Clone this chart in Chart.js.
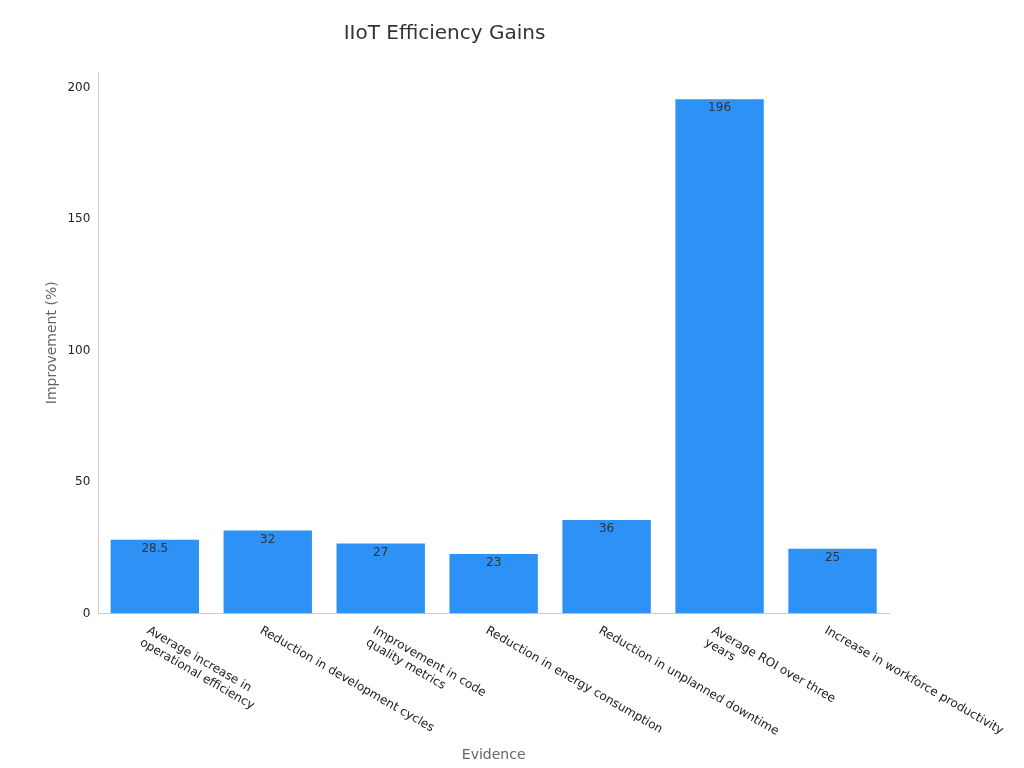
<!DOCTYPE html>
<html><head><meta charset="utf-8">
<script src="https://cdn.jsdelivr.net/npm/chart.js@4"></script>
<style>html,body{margin:0;background:#fff}#w{width:1024px;height:768px}</style>
</head><body><div id="w"><canvas id="c"></canvas></div>
<script>
const categories = [
  ["Average increase in","operational efficiency"],
  ["Reduction in development cycles"],
  ["Improvement in code","quality metrics"],
  ["Reduction in energy consumption"],
  ["Reduction in unplanned downtime"],
  ["Average ROI over three","years"],
  ["Increase in workforce productivity"]
];
const values = [28.5, 32, 27, 23, 36, 196, 25];
const FONT = "'DejaVu Sans', sans-serif";

const labelPlugin = {
  id: 'lbl',
  afterDatasetsDraw(chart) {
    const ctx = chart.ctx;
    const meta = chart.getDatasetMeta(0);
    ctx.save();
    ctx.font = "12px " + FONT;
    ctx.fillStyle = "#333";
    ctx.textAlign = "center";
    ctx.textBaseline = "top";
    meta.data.forEach((b, i) => ctx.fillText(String(values[i]), b.x, b.y + 4));
    // rotated x labels
    const xs = chart.scales.x;
    const y0 = chart.scales.y.bottom;
    ctx.fillStyle = "#222";
    ctx.textAlign = "left";
    ctx.textBaseline = "top";
    categories.forEach((lines, i) => {
      const x = xs.getPixelForValue(i);
      ctx.save();
      ctx.translate(x - 4, y0 + 11);
      ctx.rotate(Math.PI / 6);
      lines.forEach((t, k) => ctx.fillText(t, 0, k * 14));
      ctx.restore();
    });
    ctx.restore();
  }
};

new Chart(document.getElementById('c'), {
  type: 'bar',
  data: { labels: categories.map(l => l.join(' ')), datasets: [{
    data: values, backgroundColor: '#2e91f5', borderColor: '#ffffff', borderWidth: 1,
    categoryPercentage: 0.8, barPercentage: 1
  }]},
  options: {
    responsive: true, maintainAspectRatio: false, animation: false,
    layout: { padding: { left: 0, right: 135, top: 10, bottom: 0 } },
    plugins: {
      legend: { display: false }, tooltip: { enabled: false },
      title: { display: true, text: 'IIoT Efficiency Gains', color: '#333',
        font: { family: FONT, size: 20, weight: 'normal' }, padding: { top: 12, bottom: 26 } }
    },
    scales: {
      x: {
        grid: { display: false, drawTicks: true, tickLength: 5, color: '#ccc' },
        border: { color: '#ccc' },
        ticks: { display: true, color: 'rgba(0,0,0,0)', font: { family: FONT, size: 12 }, minRotation: 30, maxRotation: 30,
          callback: () => ['xxxxxxxxxxxxxxxxxxxxxxxx','xxxxxxxxxxxxxx','x'] },
        title: { display: true, text: 'Evidence', color: '#666', font: { family: FONT, size: 14 }, padding: { top: 0, bottom: 4 } }
      },
      y: {
        min: 0, max: 206,
        grid: { display: false, drawTicks: true, tickLength: 5 },
        border: { color: '#ccc' },
        ticks: { stepSize: 50, color: '#222', font: { family: FONT, size: 12 },
          callback: v => v % 50 === 0 ? v : '' },
        afterBuildTicks: s => { s.ticks = [0,50,100,150,200].map(v => ({ value: v })); },
        title: { display: true, text: 'Improvement (%)', color: '#666', font: { family: FONT, size: 14 } }
      }
    }
  },
  plugins: [labelPlugin]
});
</script></body></html>
